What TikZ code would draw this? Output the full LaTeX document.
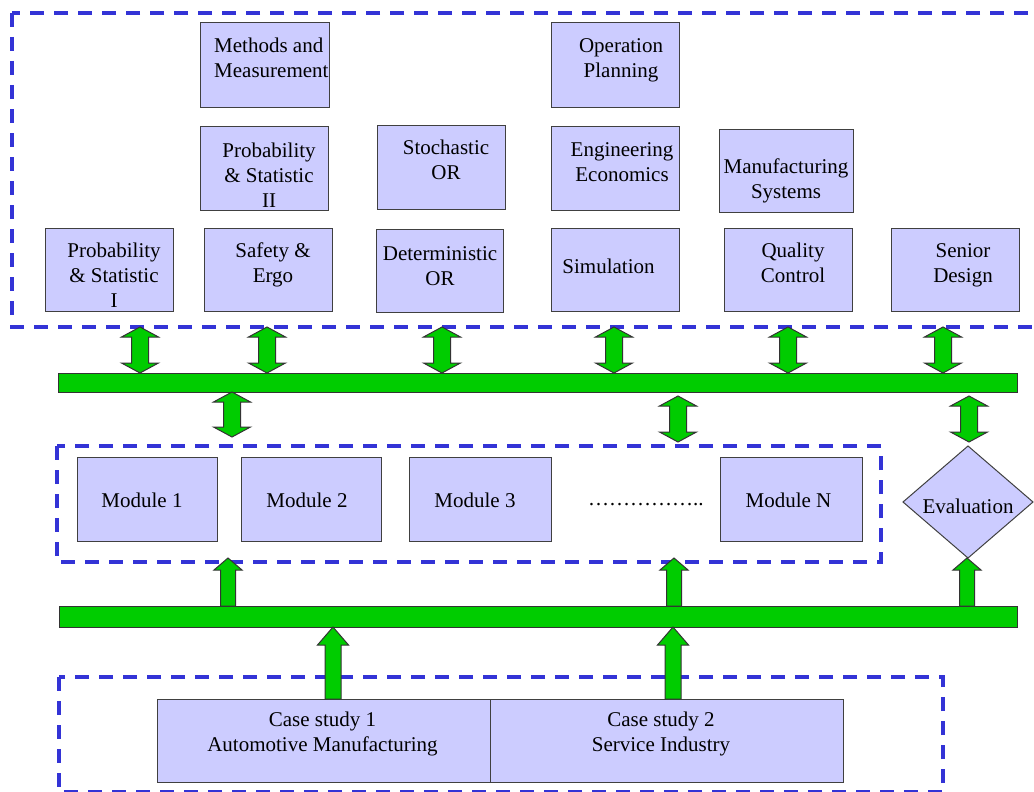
\documentclass[tikz,border=0pt]{standalone}
\usepackage{fontspec}
\setmainfont{Liberation Serif}
\usetikzlibrary{calc,shapes.geometric}
\definecolor{boxfill}{HTML}{CCCCFF}
\definecolor{boxline}{HTML}{404040}
\definecolor{frameblue}{HTML}{3333D6}
\definecolor{bargreen}{HTML}{00CC00}
\tikzset{
 box/.style={draw=boxline, fill=boxfill, line width=1pt, inner sep=0pt, outer sep=0pt},
 frame/.style={draw=frameblue, line width=4pt, dash pattern=on 14pt off 10pt},
 bar/.style={draw=black!80, fill=bargreen, line width=1pt, inner sep=0pt, outer sep=0pt},
 blockarrow/.style={draw=black!80, fill=bargreen, line width=1pt, line join=miter},
 lbl/.style={font=\fontsize{21}{25}\selectfont, inner sep=0pt, align=center, anchor=north, text=black},
}
\newcommand\bx[5]{\node[box, minimum width={#4-#2}, minimum height={#5-#3}] (#1) at ({(#2+#4)/2},{(#3+#5)/2}) {};}
\newcommand\lb[4]{\node[lbl] (#1) at (#2,#3-15) {\rule{0pt}{15pt}#4};}
% double block arrow: #1 top tip, #2 bottom tip (same x)
\newcommand\blkdbl[2]{%
 \path[blockarrow] let \p1=#1, \p2=#2 in
 (\x1,\y1) -- (\x1+18.5pt,\y1-10pt) -- (\x1+8.5pt,\y1-10pt) -- (\x1+8.5pt,\y2+10pt) -- (\x1+18.5pt,\y2+10pt) -- (\x1,\y2) -- (\x1-18.5pt,\y2+10pt) -- (\x1-8.5pt,\y2+10pt) -- (\x1-8.5pt,\y1-10pt) -- (\x1-18.5pt,\y1-10pt) -- cycle;}
% upward block arrow: #1 base (bottom), #2 tip (top), #3 shaft half width, #4 head half width, #5 head length
\newcommand\blkup[5]{%
 \path[blockarrow] let \p1=#1, \p2=#2 in
 (\x1-#3pt,\y1) -- (\x1-#3pt,\y2-#5pt) -- (\x1-#4pt,\y2-#5pt) -- (\x1,\y2) -- (\x1+#4pt,\y2-#5pt) -- (\x1+#3pt,\y2-#5pt) -- (\x1+#3pt,\y1) -- cycle;}
\begin{document}
\begin{tikzpicture}[x=1pt,y=-1pt]
\useasboundingbox (0,0) rectangle (1034,792);
\clip (0,0) rectangle (1034,792);
\fill[white] (0,0) rectangle (1034,792);
% frames
\draw[frame] (12,13) rectangle (1070,327);
\draw[frame] (57,446) rectangle (881,562);
\draw[frame] (59,677) rectangle (943,792);
% course boxes
\bx{mm}{200}{23}{329}{107}
\bx{ps2}{200}{126}{328}{210}
\bx{sor}{377}{125}{505}{209}
\bx{ps1}{45}{228}{173}{311}
\bx{se}{204}{228}{332}{311}
\bx{dor}{376}{229}{503}{312}
\bx{op}{551}{23}{679}{107}
\bx{ee}{551}{126}{679}{210}
\bx{ms}{719}{129}{853}{212}
\bx{sim}{551}{228}{679}{311}
\bx{qc}{724}{228}{852}{311}
\bx{sd}{891}{228}{1019}{311}
\node[lbl, anchor=north west, align=left] (mm-t) at (214,37) {\rule{0pt}{15pt}Methods and\\Measurement};
\lb{ps2-t}{269}{157}{Probability\\\& Statistic\\II}
\lb{sor-t}{446}{154}{Stochastic\\OR}
\lb{ps1-t}{114}{257}{Probability\\\& Statistic\\I}
\lb{se-t}{273}{257}{Safety \&\\Ergo}
\lb{dor-t}{440}{260}{Deterministic\\OR}
\lb{op-t}{621}{52}{Operation\\Planning}
\lb{ee-t}{622}{156}{Engineering\\Economics}
\lb{ms-t}{786}{173}{Manufacturing\\Systems}
\lb{sim-t}{608.5}{273}{Simulation}
\lb{qc-t}{793}{257}{Quality\\Control}
\lb{sd-t}{963}{257}{Senior\\Design}
% bars
\node[bar, minimum width=959, minimum height=19] (bar1) at (537.5,382.5) {};
\node[bar, minimum width=958, minimum height=21] (bar2) at (538,616.5) {};
% modules
\bx{m1}{77}{457}{217}{541}
\bx{m2}{241}{457}{381}{541}
\bx{m3}{409}{457}{551}{541}
\bx{mn}{720}{457}{862}{541}
\lb{m1-t}{142}{507}{Module 1}
\lb{m2-t}{307}{507}{Module 2}
\lb{m3-t}{475}{507}{Module 3}
\lb{mn-t}{788.5}{507}{Module N}
\node[lbl, anchor=base west] (dots) at (588,505) {……………..};
% evaluation
\node[diamond, draw=boxline, fill=boxfill, line width=1pt, inner sep=0pt, outer sep=0pt, minimum width=130, minimum height=112] (eval) at (968,502) {};
\lb{eval-t}{968}{513}{Evaluation}
% case studies
\bx{cs1}{157}{699}{490}{782}
\bx{cs2}{490}{699}{843}{782}
\lb{cs1-t}{322.5}{726}{Case study 1\\Automotive Manufacturing}
\lb{cs2-t}{661}{726}{Case study 2\\Service Industry}
% arrows between courses and bar1
\coordinate (u1) at (140,327);
\coordinate (u2) at (267,327);
\coordinate (u3) at (442,327);
\coordinate (u4) at (614,327);
\coordinate (u5) at (788,327);
\coordinate (u6) at (943,327);
\blkdbl{(u1)}{(u1 |- bar1.north)}
\blkdbl{(u2)}{(u2 |- bar1.north)}
\blkdbl{(u3)}{(u3 |- bar1.north)}
\blkdbl{(u4)}{(u4 |- bar1.north)}
\blkdbl{(u5)}{(u5 |- bar1.north)}
\blkdbl{(u6)}{(u6 |- bar1.north)}
% arrows between bar1 and modules / evaluation
\coordinate (d1) at (232,437);
\coordinate (d2) at (678,442);
\coordinate (d3) at (969,442);
\blkdbl{(d1 |- bar1.south)}{(d1)}
\blkdbl{($(d2 |- bar1.south)+(0,4)$)}{(d2)}
\blkdbl{($(d3 |- bar1.south)+(0,4)$)}{(d3)}
% arrows from bar2 up to modules / evaluation
\coordinate (p1) at (228,558);
\coordinate (p2) at (674,558);
\blkup{(p1 |- bar2.north)}{(p1)}{7.5}{14}{12}
\blkup{(p2 |- bar2.north)}{(p2)}{7.5}{14}{12}
\blkup{($(eval.south |- bar2.north)+(-1,0)$)}{($(eval.south)+(-1,0)$)}{7.5}{14}{12}
% arrows from case studies up to bar2
\coordinate (c1) at (333,627);
\coordinate (c2) at (673,627);
\blkup{(c1 |- cs1.north)}{(c1)}{8}{15.5}{18}
\blkup{(c2 |- cs2.north)}{(c2)}{8}{15.5}{18}
\end{tikzpicture}
\end{document}
